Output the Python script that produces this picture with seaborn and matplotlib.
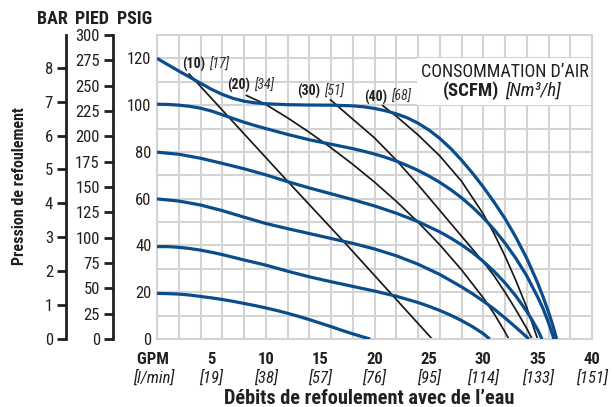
import numpy as np
import pandas as pd
import matplotlib
matplotlib.use("Agg")
import matplotlib.pyplot as plt
import seaborn as sns
from matplotlib.patches import Rectangle
from matplotlib import font_manager as fm

# ---------------- data ----------------
inlet_psi = [120, 100, 80, 60, 40, 20]

gpm_120 = [0, 1, 2, 3, 4, 5, 6, 7, 8, 9, 10, 12, 14, 16, 18, 19, 20, 21, 22, 23, 24, 25, 26, 27, 28, 29, 30, 31, 32, 33, 34, 35, 35.5, 36, 36.4, 36.75]
psi_120 = [120, 117.3, 114.6, 112, 109.4, 106.8, 104.6, 102.9, 101.7, 101, 100.6, 100.2, 100.05, 100, 99.7, 99.3, 98.6, 97.6, 96.3, 94.6, 92.3, 89.4, 85.8, 81.5, 76.5, 71, 65, 58.5, 51.5, 43.5, 34.5, 24, 18, 11.5, 5.8, 0]

gpm_100 = [0, 1, 2, 3, 4, 5, 6, 7, 8, 9, 10, 12, 14, 16, 18, 19, 20, 21, 22, 23, 24, 25, 26, 27, 28, 29, 30, 31, 32, 33, 34, 35, 35.5, 36, 36.5]
psi_100 = [100.4, 100.3, 100, 99.5, 98.7, 97.5, 95.9, 94.3, 92.7, 91.3, 90, 87.5, 85.2, 83.3, 81.4, 80.3, 79.1, 77.7, 76.1, 74.2, 72.1, 69.7, 67, 63.9, 60.4, 56.4, 51.9, 46.8, 41, 34.5, 27, 18, 13, 7, 0]

gpm_80 = [0, 2, 4, 6, 8, 10, 12, 14, 16, 18, 20, 22, 24, 26, 27, 28, 29, 30, 31, 32, 33, 34, 34.5, 35, 35.4]
psi_80 = [79.9, 79, 77.3, 75.1, 72.8, 70.2, 67.3, 64.6, 62.1, 59.6, 56.9, 53.8, 50.2, 45.8, 43.2, 40.3, 37, 33.2, 28.9, 24, 18.4, 11.8, 8, 4, 0]

gpm_60 = [0, 2, 4, 6, 8, 10, 12, 14, 16, 18, 20, 22, 24, 26, 28, 29, 30, 31, 32, 33, 33.6, 34.2]
psi_60 = [59.9, 59, 57.3, 54.9, 52.1, 49.4, 47.2, 45.1, 43, 40.9, 38.5, 35.6, 32, 27.6, 22.3, 19.4, 16.2, 12.8, 9, 5, 2.5, 0]

gpm_40 = [0, 1, 2, 3, 4, 5, 6, 8, 10, 12, 14, 16, 18, 20, 22, 24, 25, 26, 27, 28, 29, 30, 30.6]
psi_40 = [39.5, 39.5, 39.2, 38.7, 38, 37.1, 36.1, 33.8, 31.6, 29, 26.6, 24.5, 22.5, 20.5, 18.3, 15.6, 14, 12.2, 10.2, 7.9, 5.3, 2.3, 0]

gpm_20 = [0, 1, 2, 3, 4, 5, 6, 7, 8, 9, 10, 11, 12, 13, 14, 15, 16, 17, 18, 19, 19.6]
psi_20 = [19.5, 19.4, 19.2, 18.8, 18.2, 17.6, 16.9, 16.1, 15.2, 14.3, 13.3, 12.2, 11, 9.7, 8.3, 6.8, 5.3, 3.7, 2.2, 0.8, 0]

scfm = [10, 20, 30, 40]
nm3h = [17, 34, 51, 68]

gpm_s10 = [2.9, 11.9, 17.5, 25.3]
psi_s10 = [113.6, 68, 40, 0]

gpm_s20 = [8.15, 10, 12, 14, 16, 18, 20, 22, 24, 26, 28, 30, 31, 32, 32.35]
psi_s20 = [104.3, 100.3, 94.6, 88.4, 81.8, 74.7, 67.1, 58.9, 50, 40.3, 29.6, 17.6, 10.8, 3, 0]

gpm_s30 = [15.9, 18, 20, 22, 24, 26, 28, 30, 31, 32, 33, 34, 34.5]
psi_s30 = [102.5, 94, 86, 76.5, 66, 55, 44, 33, 27, 20, 12.5, 4.5, 0]

gpm_s40 = [20.7, 22, 24, 26, 28, 30, 31, 32, 33, 34, 35]
psi_s40 = [100, 95.3, 87.3, 78.3, 67.5, 53.5, 45, 35.5, 25, 13.5, 0]

gpm_ticks = [0, 5, 10, 15, 20, 25, 30, 35, 40]
gpm_labels = ["GPM\u2002", "5", "10", "15", "20", "25", "30", "35", "40"]
lpm_labels = ["[l/min]\u2002", "[19]", "[38]", "[57]", "[76]", "[95]", "[114]", "[133]", "[151]"]
psig_ticks = [0, 20, 40, 60, 80, 100, 120]
bar_ticks = [0, 1, 2, 3, 4, 5, 6, 7, 8]
pied_ticks = [0, 25, 50, 75, 100, 125, 150, 175, 200, 225, 250, 275, 300]

# ---------------- frames ----------------
blue_gpm = [gpm_120, gpm_100, gpm_80, gpm_60, gpm_40, gpm_20]
blue_psi = [psi_120, psi_100, psi_80, psi_60, psi_40, psi_20]
df_blue = pd.concat([pd.DataFrame({"gpm": g, "psi": p, "curve": c})
                     for g, p, c in zip(blue_gpm, blue_psi, inlet_psi)], ignore_index=True)
air_gpm = [gpm_s10, gpm_s20, gpm_s30, gpm_s40]
air_psi = [psi_s10, psi_s20, psi_s30, psi_s40]
df_air = pd.concat([pd.DataFrame({"gpm": g, "psi": p, "scfm": s})
                    for g, p, s in zip(air_gpm, air_psi, scfm)], ignore_index=True)

# ---------------- style ----------------
sns.set_theme(style="white")
names = {f.name for f in fm.fontManager.ttflist}
FAM = [n for n in ["Roboto Condensed", "Liberation Sans Narrow", "DejaVu Sans"] if n in names] or ["DejaVu Sans"]
plt.rcParams["font.family"] = FAM
plt.rcParams["font.stretch"] = "condensed"
BLUE = "#0b4d8c"
GRID = "#d3d3d3"
TXT = "#231f20"
TICK_FS = 12

fig = plt.figure(figsize=(6.12, 4.07), dpi=100)
ax = fig.add_axes([157 / 612, 1 - 339 / 407, 435 / 612, 304 / 407])

sns.lineplot(data=df_air, x="gpm", y="psi", units="scfm", estimator=None, sort=False,
             color="#1a1a1a", linewidth=1.25, ax=ax, zorder=2)
sns.lineplot(data=df_blue, x="gpm", y="psi", units="curve", estimator=None, sort=False,
             color=BLUE, linewidth=2.3, ax=ax, zorder=3)
for ln in ax.lines:
    ln.set_solid_joinstyle("round")
    ln.set_solid_capstyle("butt")

ax.set_xlim(0, 40)
ax.set_ylim(0, 130)
ax.set_axisbelow(True)
ax.set_xticks(np.arange(0, 41, 2))
ax.set_yticks(np.arange(0, 131, 10))
ax.set_yticklabels([str(v) if v in psig_ticks else "" for v in range(0, 131, 10)])
ax.tick_params(axis="x", length=0, labelbottom=False)
ax.tick_params(axis="y", length=0, pad=4, labelsize=TICK_FS, labelcolor=TXT)
ax.grid(True, color=GRID, linewidth=1.5)
for s in ax.spines.values():
    s.set_color(GRID)
    s.set_linewidth(1.5)
ax.set_xlabel("")
ax.set_ylabel("")

# legend box area
ax.add_patch(Rectangle((0.598, 0.770), 0.402, 0.154, transform=ax.transAxes,
                       facecolor="white", edgecolor="none", zorder=1))
ax.text(32.0, 114.3, "CONSOMMATION D\u2019AIR", ha="center", va="center",
        fontsize=13, color=TXT, zorder=4)
ax.text(31.45, 106.3, "(SCFM)", ha="right", va="center", fontsize=13.5,
        fontweight="bold", color=TXT, zorder=4)
ax.text(32.0, 106.3, "[Nm\u00b3/h]", ha="left", va="center", fontsize=13.5,
        fontstyle="italic", color=TXT, zorder=4)

# SCFM labels
lab_x = [4.42, 8.56, 15.0, 21.16]
lab_y = [117.2, 108.3, 105.8, 103.4]
for s, n, x, y in zip(scfm, nm3h, lab_x, lab_y):
    ax.text(x, y, f"({s})", ha="right", va="center", fontsize=10,
            fontweight="bold", color=TXT, zorder=4)
    ax.text(x + 0.35, y, f"[{n}]", ha="left", va="center", fontsize=10,
            fontstyle="italic", color="#333333", zorder=4)

# bottom tick labels (two lines)
sx1 = ax.secondary_xaxis("bottom")
sx1.set_xticks(gpm_ticks, labels=gpm_labels)
sx1.tick_params(length=0, pad=9, labelsize=TICK_FS, labelcolor=TXT)
for t in sx1.get_xticklabels():
    t.set_fontweight("bold")
sx1.spines["bottom"].set_visible(False)
sx2 = ax.secondary_xaxis("bottom")
sx2.set_xticks(gpm_ticks, labels=lpm_labels)
sx2.tick_params(length=0, pad=22, labelsize=TICK_FS, labelcolor=TXT)
for t in sx2.get_xticklabels():
    t.set_fontstyle("italic")
sx2.spines["bottom"].set_visible(False)

# left secondary axes: PIED and BAR
pied = ax.secondary_yaxis(-0.101, functions=(lambda p: p * 2.3077, lambda f: f / 2.3077))
pied.set_yticks(pied_ticks)
bar = ax.secondary_yaxis(-0.209, functions=(lambda p: p / 14.5038, lambda b: b * 14.5038))
bar.set_yticks(bar_ticks)
for sa in (pied, bar):
    sa.spines["left"].set_color(TXT)
    sa.spines["left"].set_linewidth(2)
    sa.tick_params(axis="y", direction="out", length=6.5, width=2, color=TXT,
                   pad=3, labelsize=TICK_FS, labelcolor=TXT)

# headers and axis titles
for txt, xc in zip(["BAR", "PIED", "PSIG"], [52, 92, 134.5]):
    fig.text(xc / 612, 1 - 19 / 407, txt, ha="center", va="center",
             fontsize=13, fontweight="bold", color=TXT)
fig.text(20 / 612, 1 - 186 / 407, "Pression de refoulement", rotation=90,
         ha="center", va="center", fontsize=11.5, fontweight="bold", color=TXT)
fig.text(369 / 612, 1 - 398 / 407, "D\u00e9bits de refoulement avec de l\u2019eau",
         ha="center", va="center", fontsize=14.6, fontweight="bold", color=TXT)

fig.savefig("out.png", dpi=100)
